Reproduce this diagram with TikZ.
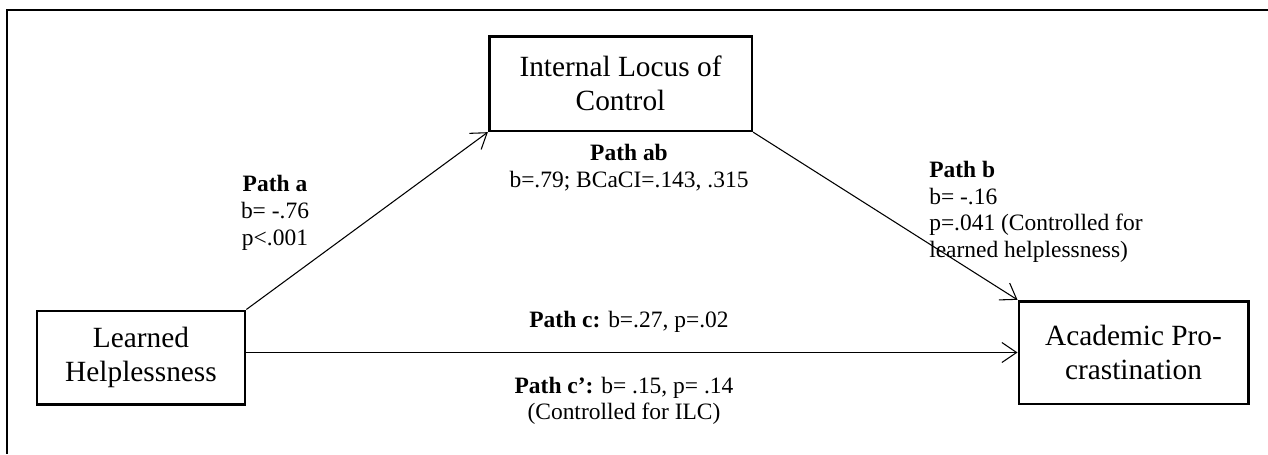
\documentclass[tikz,border=0pt]{standalone}
\usepackage{fontspec}
\setmainfont{Liberation Serif}
\usetikzlibrary{arrows.meta}

\begin{document}
\begin{tikzpicture}[x=0.75pt,y=0.75pt,yscale=-1,xscale=1,
  varbox/.style={draw,line width=2pt,align=center,inner sep=0pt,font=\fontsize{22}{25.5}\selectfont},
  pathlbl/.style={inner sep=0.75pt,font=\fontsize{17.6}{20}\selectfont},
  link/.style={line width=0.8pt,-{Straight Barb[length=11pt,width=15pt]}}]

\useasboundingbox (0,0) rectangle (1268,454);

% frame
\draw [line width=2.1pt]  (1268,10) -- (7,10) -- (7,454) ;

% variables
\draw (620.5,83.5) node [varbox,minimum width=197pt,minimum height=71pt] (ilc) {Internal Locus of\\Control};

\draw (141,357.5) node [varbox,minimum width=156pt,minimum height=70pt] (lh) {Learned\\Helplessness};

\draw (1133.5,352.5) node [varbox,minimum width=172pt,minimum height=77pt] (ap) {Academic Pro-\\crastination};

% paths
\draw [link]  (lh.north east) -- (ilc.south west) ;

\draw [link]  (ilc.south east) -- (ap.north west) ;

\draw [link]  (lh.east |- ap.west) -- (ap.west) ;

% coefficients
\draw (275,213) node [pathlbl][align=center] (pa) {\textbf{Path a}\\b= -.76\\p<.001};

\draw (629,167.5) node [pathlbl][align=center] (pab) {\textbf{Path ab}\\b=.79; BCaCI=.143, .315};

\draw (928,212) node [pathlbl,anchor=west][align=left] (pb) {\textbf{Path b}\\b= -.16\\p=.041 (Controlled for\\learned helplessness)};

\draw (629,322) node [pathlbl] (pc) {\textbf{Path c:} b=.27, p=.02};

\draw (624,401) node [pathlbl][align=center] (pcc) {\textbf{Path c’:} b= .15, p= .14\\(Controlled for ILC)};

\end{tikzpicture}
\end{document}
